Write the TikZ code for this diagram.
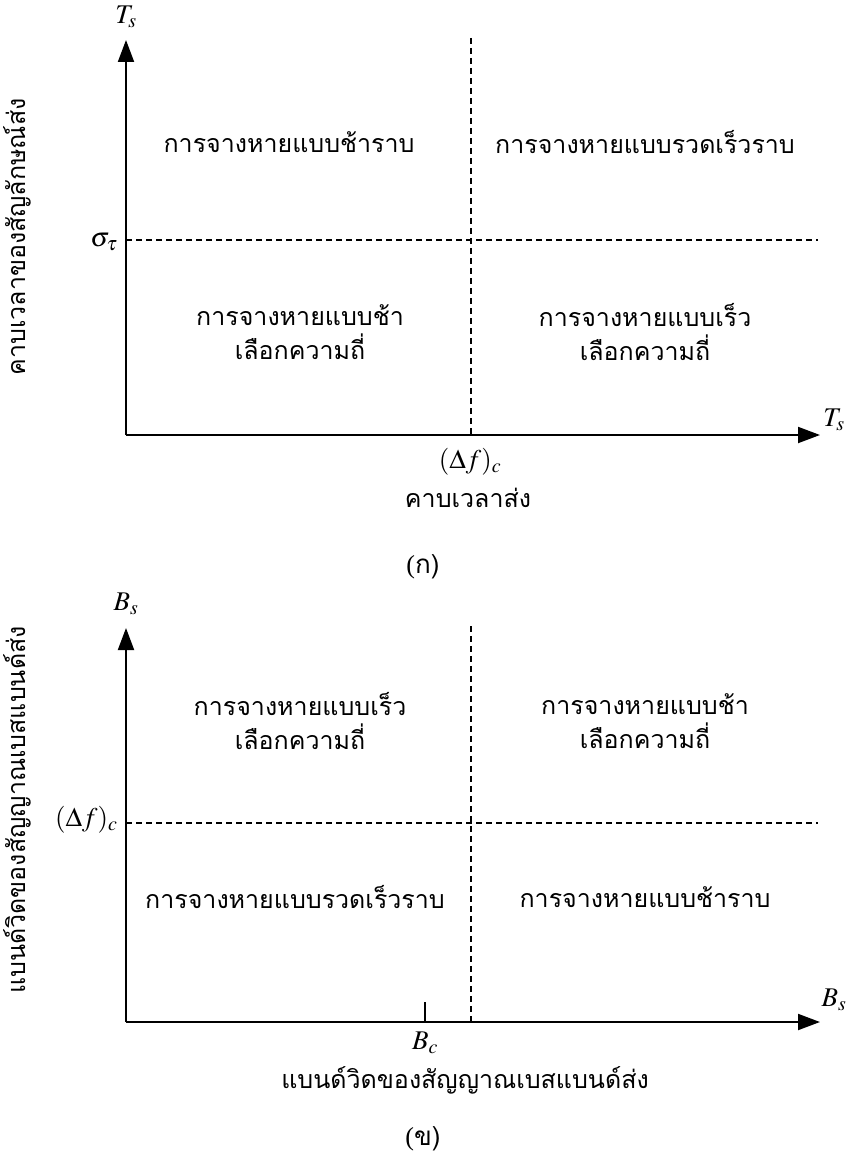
\documentclass[tikz,border=0pt]{standalone}
\usepackage{mathptmx}
\usepackage{fontspec}
\usetikzlibrary{arrows.meta}
\newfontfamily\thaifont[Script=Thai]{Loma}
\setmainfont{Liberation Serif}
\begin{document}
\begin{tikzpicture}[x=1pt,y=-1pt,
  axis/.style={line width=2pt,-{Triangle[length=22pt,width=16pt]}},
  divider/.style={line width=1.6pt,dash pattern=on 6pt off 4pt},
  thai/.style={font=\thaifont\fontsize{25}{34}\selectfont,align=center},
  sym/.style={font=\fontsize{27}{31}\selectfont},
  captionlbl/.style={font=\fontsize{26}{30}\selectfont}]
\useasboundingbox (0,0) rectangle (847,1156);

% ---------- (ก) time domain ----------
\coordinate (oA) at (126,435);
\coordinate (yA) at (126,40);
\coordinate (xA) at (820,435);
\draw[axis] (oA) -- (yA);
\draw[axis] (oA) -- (xA);
\coordinate (dvA1) at (471,38);
\coordinate (dvA2) at (471,435);
\coordinate (dhA1) at (126,240);
\coordinate (dhA2) at (818,240);
\draw[divider] (dvA1) -- (dvA2);
\draw[divider] (dhA1) -- (dhA2);
\node[sym] (TsTop) at (126,17) {$T_s$};
\node[sym] (TsRight) at (834,420) {$T_s$};
\node[sym,anchor=east] (sigma) at (121,242) {$\sigma_\tau$};
\node[sym] (dfA) at (470,462) {$(\Delta f)_c$};
\node[thai] (xlabA) at (468,498) {คาบเวลาส่ง};
\node[thai,rotate=90] (ylabA) at (17,237) {คาบเวลาของสัญลักษณ์ส่ง};
\node[thai] (a1) at (289,142) {การจางหายแบบช้าราบ};
\node[thai] (a2) at (645,142) {การจางหายแบบรวดเร็วราบ};
\node[thai] (a3) at (300,332) {การจางหายแบบช้า\\เลือกความถี่};
\node[thai] (a4) at (645,332) {การจางหายแบบเร็ว\\เลือกความถี่};
\node[captionlbl] (capA) at (423,567) {(\thaifont ก)};

% ---------- (ข) frequency domain ----------
\coordinate (oB) at (126,1022);
\coordinate (yB) at (126,628);
\coordinate (xB) at (820,1022);
\draw[axis] (oB) -- (yB);
\draw[axis] (oB) -- (xB);
\coordinate (dvB1) at (471,626);
\coordinate (dvB2) at (471,1022);
\coordinate (dhB1) at (126,823);
\coordinate (dhB2) at (818,823);
\draw[divider] (dvB1) -- (dvB2);
\draw[divider] (dhB1) -- (dhB2);
\coordinate (tickTop) at (425,1002);
\coordinate (tickBot) at (425,1022);
\draw[line width=2pt] (tickTop) -- (tickBot);
\node[sym] (BsTop) at (126,604) {$B_s$};
\node[sym] (BsRight) at (834,1000) {$B_s$};
\node[sym,anchor=east] (dfB) at (121,820) {$(\Delta f)_c$};
\node[sym] (Bc) at (425,1043) {$B_c$};
\node[thai] (xlabB) at (465,1080) {แบนด์วิดของสัญญาณเบสแบนด์ส่ง};
\node[thai,rotate=90] (ylabB) at (17,810) {แบนด์วิดของสัญญาณเบสแบนด์ส่ง};
\node[thai] (b1) at (300,721) {การจางหายแบบเร็ว\\เลือกความถี่};
\node[thai] (b2) at (645,721) {การจางหายแบบช้า\\เลือกความถี่};
\node[thai] (b3) at (295,897) {การจางหายแบบรวดเร็วราบ};
\node[thai] (b4) at (645,897) {การจางหายแบบช้าราบ};
\node[captionlbl] (capB) at (423,1139) {(\thaifont ข)};
\end{tikzpicture}
\end{document}
